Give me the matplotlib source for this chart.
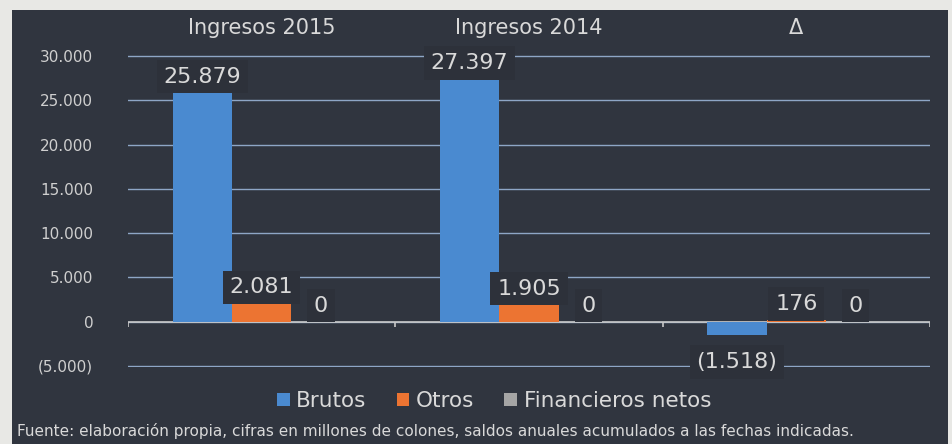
import numpy as np
import matplotlib.pyplot as plt
from matplotlib.patches import Rectangle
from matplotlib.ticker import FuncFormatter

# data (millones de colones)
categories = ["Ingresos 2015", "Ingresos 2014", "Δ"]
series = ["Brutos", "Otros", "Financieros netos"]
brutos = [25879, 27397, -1518]
otros = [2081, 1905, 176]
financieros = [0, 0, 0]
yticks = [-5000, 0, 5000, 10000, 15000, 20000, 25000, 30000]

panel = "#30353f"
txt = "#d9d9d9"
colors = ["#4a8ad0", "#ec7432", "#a5a5a5"]


def fmt(v, pos=None):
    s = "{:,.0f}".format(abs(v)).replace(",", ".")
    return "(" + s + ")" if v < 0 else s


fig = plt.figure(figsize=(9.53, 4.44), dpi=100, facecolor="#e8e8e5")
fig.patches.append(Rectangle((12 / 953, 0), 936 / 953, 434 / 444,
                             transform=fig.transFigure, facecolor=panel,
                             edgecolor="none", zorder=-10))

ax = fig.add_axes([128 / 953, 76.7 / 444, 802 / 953, 312.6 / 444])
ax.set_facecolor("none")
ax.set_zorder(1)

x = np.arange(len(categories))
w = 0.222
for i, (vals, name) in enumerate(zip([brutos, otros, financieros], series)):
    xs = x + (i - 1) * w
    ax.bar(xs, vals, w, color=colors[i], label=name, zorder=3)
    for xi, v in zip(xs, vals):
        off = 16 if v >= 0 else -27
        ax.annotate(fmt(v), (xi, v), xytext=(0, off), textcoords="offset pixels",
                    ha="center", va="center", fontsize=16, color=txt, zorder=4,
                    bbox=dict(boxstyle="square,pad=0.3", facecolor="#2d313a",
                              edgecolor="none"))

ax.set_xlim(-0.5, 2.5)
ax.set_ylim(-5150, 30150)
ax.set_yticks(yticks)
ax.yaxis.set_major_formatter(FuncFormatter(fmt))
ax.grid(axis="y", color="#8ea6c6", linewidth=1, zorder=1)
ax.axhline(0, color="#c8c8c8", linewidth=1.2, zorder=2)
ax.vlines([-0.5, 0.5, 1.5, 2.5], -650, 0, color="#c8c8c8", linewidth=1.2, zorder=2)

ax.xaxis.tick_top()
ax.set_xticks(x)
ax.set_xticklabels(categories)
ax.tick_params(axis="x", length=0, pad=12, labelsize=15, colors=txt)
ax.tick_params(axis="y", length=0, pad=25, labelsize=11, colors="#cfcfcf")
for s in ax.spines.values():
    s.set_visible(False)

fig.legend(loc="center", bbox_to_anchor=(494 / 953, 1 - 401 / 444), ncol=3,
           frameon=False, fontsize=15.5, labelcolor=txt, handlelength=0.6,
           handleheight=0.6, handletextpad=0.3, columnspacing=1.4)

fig.text(17 / 953, 1 - 431 / 444,
         "Fuente: elaboración propia, cifras en millones de colones, saldos anuales "
         "acumulados a las fechas indicadas.",
         fontsize=11, color=txt, va="center", ha="left")

fig.savefig("out.png", dpi=100, facecolor=fig.get_facecolor())
